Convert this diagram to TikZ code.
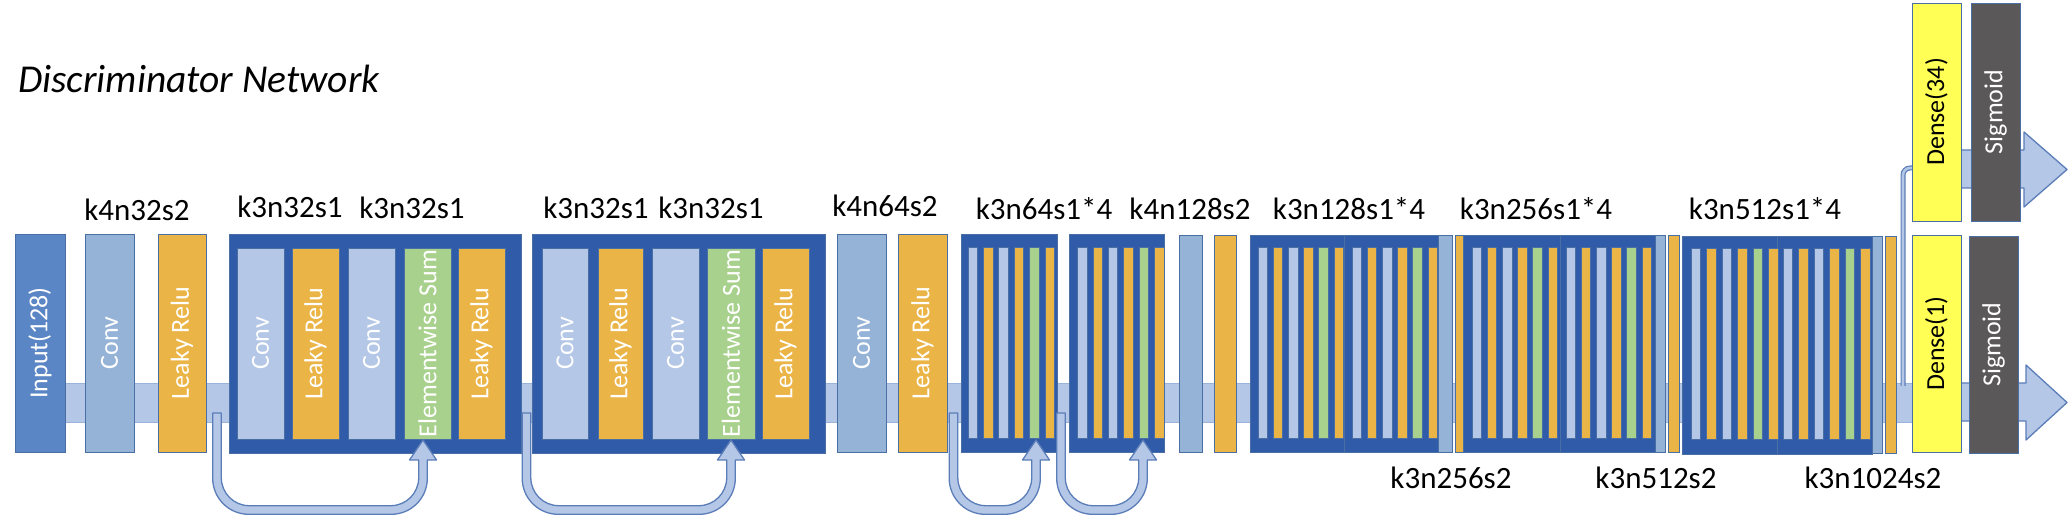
\documentclass[tikz,border=0pt]{standalone}
\usepackage{fontspec}
\setmainfont{Carlito}
\usepackage{graphicx}
\definecolor{inputc}{HTML}{5B86C5}
\definecolor{convc}{HTML}{95B3D7}
\definecolor{convl}{HTML}{B4C7E7}
\definecolor{leakc}{HTML}{EBB446}
\definecolor{sumc}{HTML}{A9D18E}
\definecolor{blockc}{HTML}{2F5BA8}
\definecolor{pipec}{HTML}{B4C7E7}
\definecolor{pipeedge}{HTML}{9AB3DA}
\definecolor{edgec}{HTML}{4A6FA5}
\definecolor{densec}{HTML}{FFFF55}
\definecolor{sigc}{HTML}{5A5858}
\definecolor{arrowedge}{HTML}{5B7DB8}
\tikzset{
  bxs/.style={draw=edgec, line width=0.8pt, inner sep=0pt, outer sep=0pt, anchor=north west, text=white, font=\fontsize{26}{27}\selectfont},
  inputbox/.style={bxs, fill=inputc},
  convbox/.style={bxs, fill=convc},
  convin/.style={bxs, fill=convl},
  leakbox/.style={bxs, fill=leakc},
  sumbox/.style={bxs, fill=sumc},
  blockbox/.style={bxs, fill=blockc},
  densebox/.style={bxs, fill=densec, text=black},
  sigbox/.style={bxs, fill=sigc},
  lbl/.style={font=\fontsize{31}{36}\selectfont, anchor=base, inner sep=0pt},
  skiparr/.style={draw=arrowedge, line width=1.3pt, fill=pipec, line join=round},
  pipebar/.style={fill=pipec, draw=pipeedge, line width=0.6pt},
}
\newcommand\bx[7]{%
  \pgfmathsetmacro\bxw{#5-#3}%
  \pgfmathsetmacro\bxh{#6-#4}%
  \node[#2, minimum width=\bxw pt, minimum height=\bxh pt] (#1) at (#3,#4) {\rotatebox{90}{#7}};}
\newcommand\barset[5]{%
  \foreach \c [count=\i] in {convl,leakc,convl,leakc,sumc,leakc}{%
    \pgfmathsetmacro\xa{#2+(\i-1)*#3}%
    \pgfmathsetmacro\xb{\xa+9.5}%
    \bx{#1\i}{bxs, fill=\c}{\xa}{#4}{\xb}{#5}{}}}
\newcommand\skiparrow[2]{%
  \pgfmathsetmacro\sa{#1-4.3}%
  \pgfmathsetmacro\sb{#1+4.3}%
  \pgfmathsetmacro\sc{#2+4.3}%
  \pgfmathsetmacro\sd{#2-4.3}%
  \pgfmathsetmacro\oa{\sa+36}\pgfmathsetmacro\oac{\oa-19.88}%
  \pgfmathsetmacro\ob{\sc-36}\pgfmathsetmacro\obc{\ob+19.88}%
  \pgfmathsetmacro\ia{\sb+28}\pgfmathsetmacro\iac{\ia-15.46}%
  \pgfmathsetmacro\ib{\sd-28}\pgfmathsetmacro\ibc{\ib+15.46}%
  \pgfmathsetmacro\ha{#2-13.5}\pgfmathsetmacro\hb{#2+13.5}%
  \draw[skiparr] (\sa,413) -- (\sa,478.3) .. controls (\sa,498.18) and (\oac,514.3) .. (\oa,514.3)
    -- (\ob,514.3) .. controls (\obc,514.3) and (\sc,498.18) .. (\sc,478.3)
    -- (\sc,460) -- (\hb,460) -- (#2,440) -- (\ha,460) -- (\sd,460)
    -- (\sd,477.7) .. controls (\sd,493.16) and (\ibc,505.7) .. (\ib,505.7)
    -- (\ia,505.7) .. controls (\iac,505.7) and (\sb,493.16) .. (\sb,477.7)
    -- (\sb,413) -- cycle;}
\newcommand\outarrow[7]{%
  \pgfmathsetmacro\ym{(#5+#6)/2}%
  \draw[skiparr] (#1,#2) -- (#4,#2) -- (#4,#5) -- (#7,\ym) -- (#4,#6) -- (#4,#3) -- (#1,#3) -- cycle;}
\begin{document}
\begin{tikzpicture}[x=1pt,y=-1pt]
\useasboundingbox (0,0) rectangle (2072,526);
% title
\node[anchor=base west, inner sep=0pt, font=\fontsize{39.5}{42}\selectfont\itshape] (title) at (18,93) {Discriminator Network};
% main pipe and branch
\coordinate (pipeA) at (65,383);
\coordinate (pipeB) at (1912,422);
\draw[pipebar] (pipeA) rectangle (pipeB);
\coordinate (brA) at (1903,386);
\coordinate (brB) at (1914,168);
\draw[line width=5pt, draw=arrowedge, rounded corners=7pt] (brA) |- (brB);
\draw[line width=2.6pt, draw=pipec, rounded corners=7pt] (brA) |- (brB);
% output arrows
\outarrow{1930}{150}{188}{2024}{132}{207}{2067}
\outarrow{1930}{383}{421}{2026}{365}{440}{2067}
% first layers
\bx{inp}{inputbox}{15}{234}{65}{452}{Input(128)}
\bx{conv1}{convbox}{85}{234}{134}{452}{Conv}
\bx{leak1}{leakbox}{158}{234}{206}{452}{Leaky Relu}
% residual block 1
\bx{blk1}{blockbox}{229}{234}{521}{453}{}
\bx{b1a}{convin}{237}{248}{284}{439}{Conv}
\bx{b1b}{leakbox}{292}{248}{339}{439}{Leaky Relu}
\bx{b1c}{convin}{348}{248}{395}{439}{Conv}
\bx{b1d}{sumbox}{404}{248}{451}{439}{Elementwise Sum}
\bx{b1e}{leakbox}{458}{248}{505}{439}{Leaky Relu}
% residual block 2
\bx{blk2}{blockbox}{532}{234}{825}{453}{}
\bx{b2a}{convin}{542}{248}{588}{439}{Conv}
\bx{b2b}{leakbox}{598}{248}{643}{439}{Leaky Relu}
\bx{b2c}{convin}{652}{248}{699}{439}{Conv}
\bx{b2d}{sumbox}{707}{248}{755}{439}{Elementwise Sum}
\bx{b2e}{leakbox}{762}{248}{809}{439}{Leaky Relu}
% k4n64s2
\bx{conv2}{convbox}{837}{234}{886}{452}{Conv}
\bx{leak2}{leakbox}{898}{234}{947}{452}{Leaky Relu}
% k3n64s1*4
\bx{blk3}{blockbox}{961}{234}{1057}{452}{}
\barset{b3}{968}{15.4}{247}{438}
\bx{blk4}{blockbox}{1069}{234}{1164}{452}{}
\barset{b4}{1077.5}{15.4}{247}{438}
% k4n128s2
\bx{conv3}{convbox}{1179}{235}{1202}{452}{}
\bx{leak3}{leakbox}{1214}{235}{1236}{452}{}
% k3n128s1*4
\bx{blk5a}{blockbox}{1250}{235}{1344}{452}{}
\bx{blk5b}{blockbox}{1344}{235}{1438}{452}{}
\barset{b5a}{1258}{15.2}{247}{438}
\barset{b5b}{1352}{15.2}{247}{438}
\bx{conv4}{convbox}{1438}{235}{1452}{452}{}
\bx{leak4}{leakbox}{1455}{235}{1463}{452}{}
% k3n256s1*4
\bx{blk6a}{blockbox}{1463}{235}{1560}{452}{}
\bx{blk6b}{blockbox}{1560}{235}{1655}{452}{}
\barset{b6a}{1472}{15.2}{247}{438}
\barset{b6b}{1566}{15.2}{247}{438}
\bx{conv5}{convbox}{1655}{235}{1665}{452}{}
\bx{leak5}{leakbox}{1668}{235}{1679}{452}{}
% k3n512s1*4
\bx{blk7a}{blockbox}{1682}{236}{1777}{454}{}
\bx{blk7b}{blockbox}{1777}{236}{1872}{454}{}
\barset{b7a}{1691}{15.5}{248}{439}
\barset{b7b}{1783}{15.5}{248}{439}
\bx{conv6}{convbox}{1872}{236}{1882}{453}{}
\bx{leak6}{leakbox}{1885}{236}{1896}{453}{}
% heads
\bx{dense34}{densebox}{1912}{3}{1961}{221}{Dense(34)}
\bx{sig34}{sigbox}{1971}{3}{2020}{221}{Sigmoid}
\bx{dense1}{densebox}{1912}{235}{1961}{452}{Dense(1)}
\bx{sig1}{sigbox}{1969}{236}{2018}{453}{Sigmoid}
% skip connections
\skiparrow{217}{423}
\skiparrow{526.5}{731}
\skiparrow{953.5}{1036}
\skiparrow{1061}{1143}
% labels
\node[lbl] (l1) at (137,221) {k4n32s2};
\node[lbl] (l2) at (290,218) {k3n32s1};
\node[lbl] (l3) at (412,219) {k3n32s1};
\node[lbl] (l4) at (596,219) {k3n32s1};
\node[lbl] (l5) at (711,219) {k3n32s1};
\node[lbl] (l6) at (885,217) {k4n64s2};
\node[lbl] (l7) at (1044,220) {k3n64s1*4};
\node[lbl] (l8) at (1190,220) {k4n128s2};
\node[lbl] (l9) at (1349,220) {k3n128s1*4};
\node[lbl] (l10) at (1536,220) {k3n256s1*4};
\node[lbl] (l11) at (1765,220) {k3n512s1*4};
\node[lbl] (l12) at (1451,488) {k3n256s2};
\node[lbl] (l13) at (1656,488) {k3n512s2};
\node[lbl] (l14) at (1873,488) {k3n1024s2};
\end{tikzpicture}
\end{document}
